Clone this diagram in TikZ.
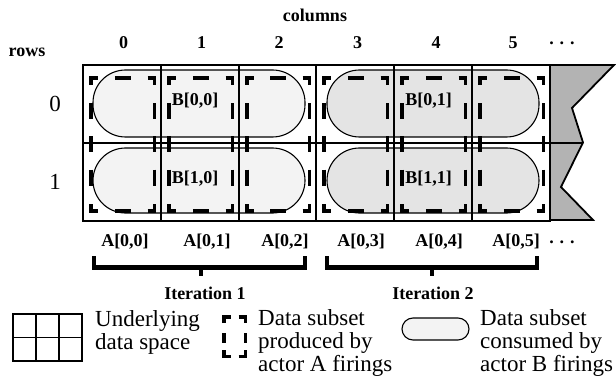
\documentclass[tikz,border=0pt]{standalone}
\usepackage{fontspec}
\setmainfont{Liberation Serif}
\definecolor{pillL}{HTML}{F3F3F3}
\definecolor{pillD}{HTML}{E4E4E4}
\definecolor{flagC}{HTML}{B3B3B3}
\newcommand\DSubset[2]{%
  \draw[dsh] (#1,85) -- (#1,78) -- ({#1+7},78);
  \draw[dsh] ({#2-7},78) -- (#2,78) -- (#2,85);
  \draw[dsh] (#1,204) -- (#1,211) -- ({#1+7},211);
  \draw[dsh] ({#2-7},211) -- (#2,211) -- (#2,204);
  \draw[dsh] ({(#1+#2)/2-8},78) -- ({(#1+#2)/2+8},78);
  \draw[dsh] ({(#1+#2)/2-8},211) -- ({(#1+#2)/2+8},211);
  \foreach \yy in {111.25,144.5,177.75}{
    \draw[dsh] (#1,{\yy-8}) -- (#1,{\yy+8});
    \draw[dsh] (#2,{\yy-8}) -- (#2,{\yy+8});
  }%
}
\begin{document}
\begin{tikzpicture}[x=1pt,y=-1pt,
  gridl/.style={line width=1.4pt},
  pill/.style={draw,line width=1.1pt},
  dsh/.style={line width=3.5pt,line join=miter},
  bl/.style={inner sep=0pt,font=\fontsize{18}{20}\selectfont\bfseries},
  rg/.style={inner sep=0pt,font=\fontsize{23}{24}\selectfont},
  lg/.style={inner sep=0pt,anchor=north west,align=left,font=\fontsize{23}{23}\selectfont},
  brk/.style={line width=4.5pt,line join=miter}]
\useasboundingbox (0,0) rectangle (616,377);
% pills
\draw[pill,fill=pillL,rounded corners=32.5pt] (93,70) rectangle (305,137);
\draw[pill,fill=pillL,rounded corners=32.5pt] (93,148) rectangle (305,213);
\draw[pill,fill=pillD,rounded corners=32.5pt] (327,70) rectangle (539,137);
\draw[pill,fill=pillD,rounded corners=32.5pt] (327,148) rectangle (539,213);
% flag
\draw[line width=1.8pt,fill=flagC,line join=miter] (550,65) -- (614,65) -- (572,108) -- (583,142.5) -- (561,187) -- (593,220) -- (550,220) -- cycle;
% grid
\draw[gridl] (83,65) rectangle (550,221);
\foreach \x in {161,239,316,394,472}{\draw[gridl] (\x,65) -- (\x,221);}
\draw[line width=2pt] (83,143) -- (583,143);
% dashed subsets
\DSubset{91}{154.5}
\DSubset{169}{232.5}
\DSubset{247}{309.5}
\DSubset{324}{387.5}
\DSubset{402}{465.5}
\DSubset{480}{543.5}
% labels
\node[bl] (cols) at (315,15) {columns};
\node[bl] (rows) at (27,52) {rows};
\foreach \i/\x in {0/123.5,1/201.5,2/279,3/357.5,4/436,5/513}{\node[bl] (c\i) at (\x,43) {\i};}
\node[bl] (cdots) at (562,43) {. . .};
\node[rg] (r0) at (55,104) {0};
\node[rg] (r1) at (55,182) {1};
\node[bl] (b00) at (195,101) {B[0,0]};
\node[bl] (b10) at (195,179) {B[1,0]};
\node[bl] (b01) at (428.5,101) {B[0,1]};
\node[bl] (b11) at (428.5,179) {B[1,1]};
\foreach \i/\x in {0/125,1/207,2/285,3/361,4/439,5/516}{\node[bl] (a\i) at (\x,242) {A[0,\i]};}
\node[bl] (adots) at (562,242) {. . .};
% brackets
\draw[brk] (94,256) -- (94,267.5) -- (305,267.5) -- (305,256);
\draw[brk] (201,267.5) -- (201,276);
\draw[brk] (327,256) -- (327,267.5) -- (537,267.5) -- (537,256);
\draw[brk] (432,267.5) -- (432,276);
\node[bl] (it1) at (205,293) {Iteration 1};
\node[bl] (it2) at (433,293) {Iteration 2};
% legend
\draw[gridl] (13,314) rectangle (82,361);
\draw[gridl] (36,314) -- (36,361);
\draw[gridl] (59,314) -- (59,361);
\draw[gridl] (13,337.5) -- (82,337.5);
\node[lg] (leg1) at (95,310) {Underlying\\data space};
\draw[dsh] (223.75,323) -- (223.75,316.75) -- (230.5,316.75);
\draw[dsh] (238.5,316.75) -- (245.25,316.75) -- (245.25,323);
\draw[dsh] (223.75,350) -- (223.75,356.25) -- (230.5,356.25);
\draw[dsh] (238.5,356.25) -- (245.25,356.25) -- (245.25,350);
\draw[dsh] (223.75,333) -- (223.75,343);
\draw[dsh] (245.25,333) -- (245.25,343);
\node[lg] (leg2) at (258,309.5) {Data subset\\produced by\\actor A firings};
\draw[pill,fill=pillL,rounded corners=11pt] (402,318) rectangle (469,340);
\node[lg] (leg3) at (480,309.5) {Data subset\\consumed by\\actor B firings};
\end{tikzpicture}
\end{document}
